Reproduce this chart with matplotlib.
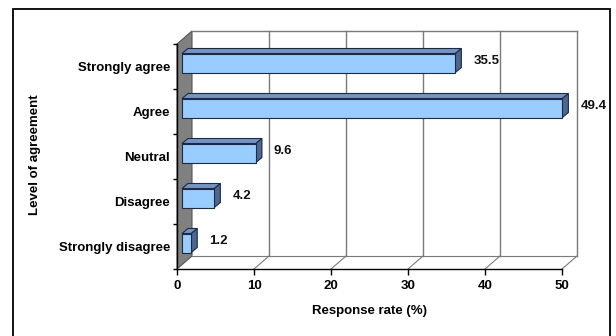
import matplotlib
matplotlib.use("Agg")
import matplotlib.pyplot as plt
from matplotlib.patches import Polygon, Rectangle
from matplotlib.lines import Line2D

categories = ["Strongly agree", "Agree", "Neutral", "Disagree", "Strongly disagree"]
values = [35.5, 49.4, 9.6, 4.2, 1.2]
x_ticks = [0, 10, 20, 30, 40, 50]
x_title = "Response rate (%)"
y_title = "Level of agreement"

FONT = ["Liberation Sans", "DejaVu Sans"]
plt.rcParams["font.family"] = FONT

W, H, DPI = 616, 336, 100
fig = plt.figure(figsize=(W / DPI, H / DPI), dpi=DPI, facecolor="white")

# front plane of the pseudo-3D plot, in pixels
left_px, right_px, top_px, bottom_px = 177, 562, 44, 269
ax = fig.add_axes([left_px / W, 1 - bottom_px / H,
                   (right_px - left_px) / W, (bottom_px - top_px) / H])
xmax = x_ticks[-1]
n = len(categories)
ax.set_xlim(0, xmax)
ax.set_ylim(0, n)
ax.set_facecolor("none")

kx = (right_px - left_px) / xmax      # pixels per x unit
ky = (bottom_px - top_px) / n         # pixels per category


def off(dx_px, dy_px):
    return dx_px / kx, dy_px / ky


# depth of the walls and of the bars
wdx, wdy = off(15, 13)
bdx, bdy = off(6, 5)
bshx, bshy = off(5, 3.5)     # bars sit slightly behind the front plane
bar_h = 19 / ky

grid_col = "#7a7a7a"

# left wall
ax.add_patch(Polygon([(0, 0), (wdx, wdy), (wdx, n + wdy), (0, n)], closed=True,
                     facecolor="#808080", edgecolor="#555555", lw=0.8,
                     clip_on=False, zorder=1))
# back wall gridlines and outline
for t in x_ticks[1:]:
    ax.add_line(Line2D([t + wdx, t + wdx], [wdy, n + wdy], color=grid_col,
                       lw=1.0, clip_on=False, zorder=1))
    ax.add_line(Line2D([t, t + wdx], [0, wdy], color=grid_col,
                       lw=0.8, clip_on=False, zorder=1))
ax.add_line(Line2D([wdx, xmax + wdx], [n + wdy, n + wdy], color=grid_col,
                   lw=1.0, clip_on=False, zorder=1))
ax.add_line(Line2D([wdx, xmax + wdx], [wdy, wdy], color=grid_col,
                   lw=0.8, clip_on=False, zorder=1))

# bars
front_col, top_col, side_col, edge_col = "#99ccff", "#7594c4", "#4e6690", "#1c2a44"
for i, (cat, v) in enumerate(zip(categories, values)):
    yc = n - 0.5 - i
    x0, x1 = bshx, v + bshx
    y0, y1 = yc - bar_h / 2 + bshy, yc + bar_h / 2 + bshy
    ax.add_patch(Polygon([(x0, y1), (x1, y1), (x1 + bdx, y1 + bdy), (x0 + bdx, y1 + bdy)],
                         closed=True, facecolor=top_col, edgecolor=edge_col,
                         lw=0.8, clip_on=False, zorder=3))
    ax.add_patch(Polygon([(x1, y0), (x1 + bdx, y0 + bdy), (x1 + bdx, y1 + bdy), (x1, y1)],
                         closed=True, facecolor=side_col, edgecolor=edge_col,
                         lw=0.8, clip_on=False, zorder=3))
    ax.add_patch(Rectangle((x0, y0), v, y1 - y0, facecolor=front_col,
                           edgecolor=edge_col, lw=0.8, clip_on=False, zorder=4))
    lx, ly = off(12, 0)
    ax.text(x1 + bdx + lx, (y0 + y1) / 2 + bdy / 2, f"{v:.1f}", fontsize=9.5,
            fontweight="bold", ha="left", va="center", color="#111111",
            clip_on=False, zorder=5)

# axes lines and ticks
for s in ("top", "right"):
    ax.spines[s].set_visible(False)
for s in ("left", "bottom"):
    ax.spines[s].set_color("black")
    ax.spines[s].set_linewidth(1.0)
ax.set_xticks(x_ticks)
ax.set_xticklabels([str(t) for t in x_ticks], fontsize=9.5, fontweight="bold")
ax.set_yticks(range(n + 1))
ax.set_yticklabels([])
ax.set_yticks([n - 0.5 - i for i in range(n)], minor=True)
ax.set_yticklabels(categories, minor=True, fontsize=9.5, fontweight="bold")
ax.tick_params(axis="x", direction="out", length=4, width=1, pad=4)
ax.tick_params(axis="y", which="major", direction="out", length=3, width=1)
ax.tick_params(axis="y", which="minor", length=0, pad=5)

fig.text(369 / W, 1 - 311 / H, x_title, fontsize=9.5, fontweight="bold",
         ha="center", va="center")
fig.text(35 / W, 1 - 155 / H, y_title, fontsize=9.5, fontweight="bold",
         rotation=90, ha="center", va="center")

# chart border
fig.add_artist(Rectangle((13 / W, -0.02), (610 - 13) / W, 1 - 9 / H + 0.02,
                         transform=fig.transFigure, fill=False,
                         edgecolor="black", lw=1.3))

fig.savefig("out.png", dpi=DPI, facecolor="white")
